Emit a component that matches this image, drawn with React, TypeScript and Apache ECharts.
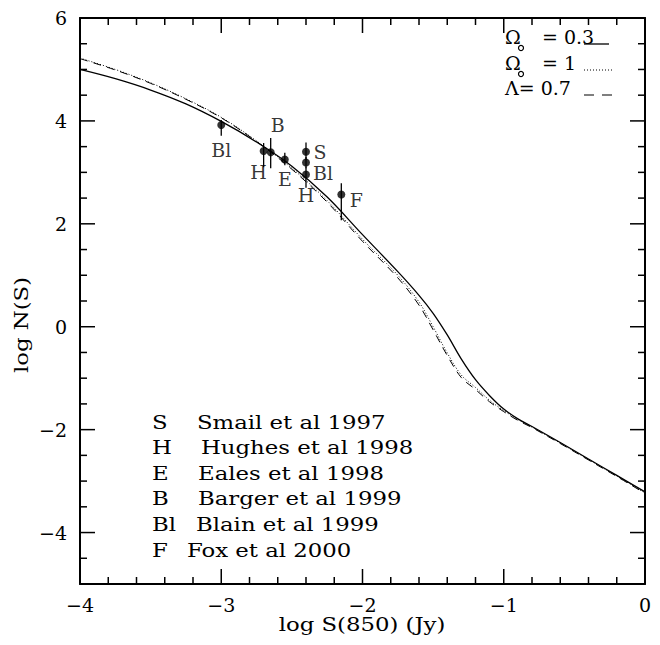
import React, { useEffect, useRef } from "react";
import * as echarts from "echarts";

// ---- data ----
const curveX = [-4, -3.75, -3.5, -3.25, -3, -2.75, -2.5, -2.25, -2, -1.75, -1.6, -1.5, -1.4, -1.3, -1.2, -1.1, -1, -0.9, -0.8, -0.6, -0.4, -0.2, 0];
const omega03 = [5.0, 4.82, 4.6, 4.33, 3.99, 3.59, 3.12, 2.52, 1.79, 1.07, 0.61, 0.26, -0.16, -0.63, -1.03, -1.34, -1.6, -1.79, -1.94, -2.25, -2.57, -2.89, -3.21];
const omega1 = [5.22, 5.0, 4.74, 4.43, 4.07, 3.61, 3.08, 2.45, 1.7, 1.0, 0.48, 0.0, -0.51, -0.94, -1.18, -1.43, -1.63, -1.8, -1.95, -2.26, -2.58, -2.9, -3.23];
const lambda07 = [5.21, 4.99, 4.73, 4.42, 4.06, 3.6, 3.06, 2.42, 1.66, 0.95, 0.42, -0.06, -0.56, -0.99, -1.22, -1.46, -1.65, -1.82, -1.96, -2.27, -2.59, -2.91, -3.24];

const pointX = [-3.0, -2.7, -2.65, -2.55, -2.4, -2.4, -2.4, -2.15];
const pointY = [3.92, 3.415, 3.39, 3.25, 3.4, 3.19, 2.96, 2.57];
const errLo = [3.71, 3.1, 3.08, 3.14, 3.24, 3.08, 2.7, 2.07];
const errHi = [4.02, 3.57, 3.67, 3.38, 3.58, 3.3, 3.1, 2.79];
const pointLabels = ["Bl", "H", "B", "E", "S", "Bl", "H", "F"];

const refLetters = ["S", "H", "E", "B", "Bl", "F"];
const refNames = ["Smail et al 1997", "Hughes et al 1998", "Eales et al 1998", "Barger et al 1999", "Blain et al 1999", "Fox et al 2000"];

// axis tick values
const xMajorTicks = [-4, -3, -2, -1, 0];
const xMinorTicks = [-3.8, -3.6, -3.4, -3.2, -2.8, -2.6, -2.4, -2.2, -1.8, -1.6, -1.4, -1.2, -0.8, -0.6, -0.4, -0.2];
const yMajorTicks = [-4, -2, 0, 2, 4, 6];
const yMinorTicks = [-4.5, -3.5, -3, -2.5, -1.5, -1, -0.5, 0.5, 1, 1.5, 2.5, 3, 3.5, 4.5, 5, 5.5];
const X_MIN = -4, X_MAX = 0, Y_MIN = -5, Y_MAX = 6;

// ---- layout / style (not data) ----
const labelOffsets = [[0, 25], [-5, 21], [7, -27], [0, 19], [14, 0], [17, 10], [0, 21], [15, 6]];
const refNameX = [197, 201, 198, 198, 196, 187];
const refRowY = [423, 448, 474, 499, 525, 551];
const MAJOR_LEN = 15, MINOR_LEN = 7, TICK_W = 1.5;

const FONT = "'DejaVu Serif', serif";
const BLACK = "#000";

const fmt = (v: number) => (v < 0 ? "\u2212" + Math.abs(v) : String(v));

export default function App() {
  const ref = useRef<HTMLDivElement>(null);
  useEffect(() => {
    if (!ref.current) return;
    const chart = echarts.init(ref.current, undefined, { renderer: "svg" });
    const grid = { left: 80, right: 15, top: 18, bottom: 61 };

    const xAxis = (pos: string, labels: boolean) => ({
      type: "value",
      position: pos,
      min: X_MIN,
      max: X_MAX,
      interval: 1,
      splitLine: { show: false },
      axisLine: { show: true, onZero: false, lineStyle: { color: BLACK, width: 2 } },
      axisTick: { show: false },
      axisLabel: { show: labels, margin: 11, color: BLACK, fontFamily: FONT, fontSize: 19, formatter: fmt },
    });
    const yAxis = (pos: string, labels: boolean) => ({
      type: "value",
      position: pos,
      min: Y_MIN,
      max: Y_MAX,
      splitLine: { show: false },
      axisLine: { show: true, onZero: false, lineStyle: { color: BLACK, width: 2 } },
      axisTick: { show: false },
      axisLabel: {
        show: labels,
        customValues: yMajorTicks,
        margin: 13,
        color: BLACK,
        fontFamily: FONT,
        fontSize: 19,
        formatter: fmt,
      },
    });

    // ticks drawn as thin filled rectangles positioned through the axis scale
    const xTickSeries = (vals: number[], len: number) => ({
      type: "custom",
      data: vals.map((v) => [v, Y_MIN, Y_MAX]),
      encode: { x: 0, y: [1, 2] },
      renderItem: (params: any, api: any) => {
        const pb = api.coord([api.value(0), api.value(1)]);
        const pt = api.coord([api.value(0), api.value(2)]);
        return {
          type: "group",
          children: [
            { type: "rect", shape: { x: pb[0] - TICK_W / 2, y: pb[1] - len, width: TICK_W, height: len }, style: { fill: BLACK } },
            { type: "rect", shape: { x: pt[0] - TICK_W / 2, y: pt[1], width: TICK_W, height: len }, style: { fill: BLACK } },
          ],
        };
      },
      z: 5,
    });
    const yTickSeries = (vals: number[], len: number) => ({
      type: "custom",
      data: vals.map((v) => [X_MIN, X_MAX, v]),
      encode: { x: [0, 1], y: 2 },
      renderItem: (params: any, api: any) => {
        const pl = api.coord([api.value(0), api.value(2)]);
        const pr = api.coord([api.value(1), api.value(2)]);
        return {
          type: "group",
          children: [
            { type: "rect", shape: { x: pl[0], y: pl[1] - TICK_W / 2, width: len, height: TICK_W }, style: { fill: BLACK } },
            { type: "rect", shape: { x: pr[0] - len, y: pr[1] - TICK_W / 2, width: len, height: TICK_W }, style: { fill: BLACK } },
          ],
        };
      },
      z: 5,
    });

    const line = (name: string, ys: number[], type: any, width: number) => ({
      name,
      type: "line",
      data: curveX.map((x, i) => [x, ys[i]]),
      showSymbol: false,
      smooth: 0.35,
      lineStyle: { color: BLACK, width, type },
      z: 2,
    });

    const baseStyle = { fontFamily: FONT, fontSize: 19, fill: BLACK, textAlign: "left", align: "left", textVerticalAlign: "middle", verticalAlign: "middle" };

    const legendTexts: any[] = [];
    refLetters.forEach((l, i) => {
      legendTexts.push({ type: "text", x: 152, y: refRowY[i], scaleX: 1.2, style: { ...baseStyle, text: l } });
      legendTexts.push({ type: "text", x: refNameX[i], y: refRowY[i], scaleX: 1.2, style: { ...baseStyle, text: refNames[i] } });
    });

    const txt = (text: string, x: number, y: number) => ({ type: "text", x, y, style: { ...baseStyle, text } });

    const keyGraphics: any[] = [
      txt("\u03A9", 505, 37),
      { type: "circle", shape: { cx: 521, cy: 48, r: 2.5 }, style: { fill: "none", stroke: BLACK, lineWidth: 1.2 } },
      txt("= 0.3", 542, 37),
      { type: "line", shape: { x1: 584, y1: 44, x2: 609, y2: 44 }, style: { stroke: BLACK, lineWidth: 1.3 } },
      txt("\u03A9", 505, 63),
      { type: "circle", shape: { cx: 521, cy: 74, r: 2.5 }, style: { fill: "none", stroke: BLACK, lineWidth: 1.2 } },
      txt("= 1", 542, 63),
      { type: "line", shape: { x1: 584, y1: 70, x2: 613, y2: 70 }, style: { stroke: BLACK, lineWidth: 1, lineDash: [1, 2] } },
      txt("\u039B= 0.7", 505, 88),
      { type: "line", shape: { x1: 584, y1: 95, x2: 613, y2: 95 }, style: { stroke: BLACK, lineWidth: 1.2, lineDash: [10, 8] } },
      { type: "text", x: 362, y: 625, scaleX: 1.2, style: { ...baseStyle, text: "log S(850) (Jy)", textAlign: "center", align: "center" } },
      { type: "text", x: 22, y: 325, scaleX: 1.2, rotation: Math.PI / 2, style: { ...baseStyle, text: "log N(S)", textAlign: "center", align: "center" } },
    ];

    chart.setOption({
      animation: false,
      backgroundColor: "#fff",
      grid,
      xAxis: [xAxis("bottom", true), xAxis("top", false)],
      yAxis: [yAxis("left", true), yAxis("right", false)],
      series: [
        xTickSeries(xMajorTicks, MAJOR_LEN),
        xTickSeries(xMinorTicks, MINOR_LEN),
        yTickSeries(yMajorTicks, MAJOR_LEN),
        yTickSeries(yMinorTicks, MINOR_LEN),
        line("\u03A9 = 0.3", omega03, "solid", 1.3),
        line("\u03A9 = 1", omega1, [1, 2], 1),
        line("\u039B = 0.7", lambda07, [8, 6], 1),
        {
          type: "custom",
          name: "errors",
          data: pointX.map((x, i) => [x, errLo[i], errHi[i]]),
          encode: { x: 0, y: [1, 2] },
          renderItem: (params: any, api: any) => {
            const p1 = api.coord([api.value(0), api.value(1)]);
            const p2 = api.coord([api.value(0), api.value(2)]);
            return {
              type: "line",
              shape: { x1: p1[0], y1: p1[1], x2: p2[0], y2: p2[1] },
              style: { stroke: BLACK, lineWidth: 1.3 },
            };
          },
          z: 3,
        },
        {
          type: "scatter",
          name: "points",
          symbol: "circle",
          symbolSize: 8,
          itemStyle: { color: BLACK },
          data: pointX.map((x, i) => ({
            value: [x, pointY[i]],
            label: {
              show: true,
              position: "inside",
              offset: labelOffsets[i],
              formatter: pointLabels[i],
              color: BLACK,
              fontFamily: FONT,
              fontSize: 19,
            },
          })),
          z: 4,
        },
      ],
      graphic: [...legendTexts, ...keyGraphics],
    });
    return () => chart.dispose();
  }, []);
  return <div ref={ref} style={{ position: "fixed", left: 0, top: 0, width: 660, height: 645, background: "#fff" }} />;
}
